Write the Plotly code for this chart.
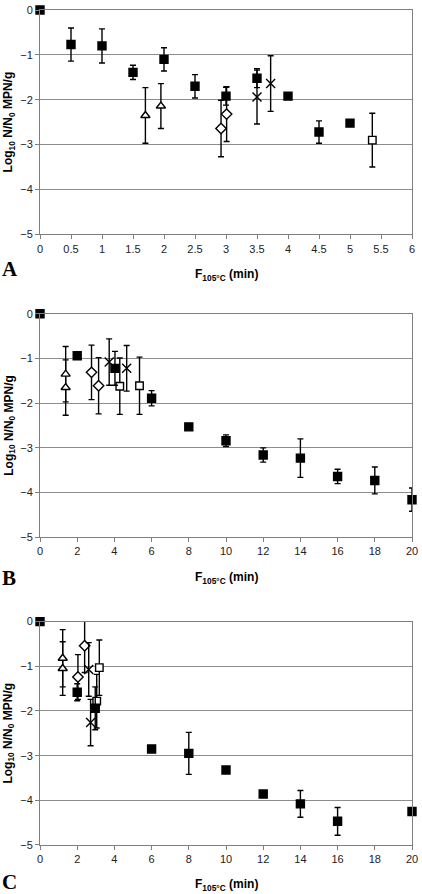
import plotly.graph_objects as go

# ---------------- data ----------------
# Panel A
a_sq_x = [0, 0.5, 1, 1.5, 2, 2.5, 3, 3.5, 4, 4.5, 5]
a_sq_y = [0, -0.77, -0.80, -1.39, -1.10, -1.70, -1.92, -1.52, -1.92, -2.72, -2.52]
a_sq_e = [None, 0.37, 0.38, 0.16, 0.26, 0.26, 0.20, 0.21, None, 0.25, None]
a_tri_x = [1.70, 1.95]
a_tri_y = [-2.35, -2.14]
a_tri_e = [0.62, 0.50]
a_dia_x = [2.92, 3.01]
a_dia_y = [-2.64, -2.32]
a_dia_e = [0.63, 0.61]
a_x_x = [3.50, 3.72]
a_x_y = [-1.94, -1.64]
a_x_e = [0.60, 0.62]
a_osq_x = [5.36]
a_osq_y = [-2.90]
a_osq_e = [0.60]

# Panel B
b_sq_x = [0, 2, 4.03, 6, 8, 10, 12, 14, 16, 18, 20]
b_sq_y = [0, -0.94, -1.22, -1.89, -2.53, -2.84, -3.16, -3.23, -3.64, -3.73, -4.16]
b_sq_e = [None, None, 0.38, 0.17, None, 0.13, 0.16, 0.43, 0.16, 0.30, 0.26]
b_tri_x = [1.38, 1.38]
b_tri_y = [-1.35, -1.65]
b_tri_e = [0.62, 0.62]
b_dia_x = [2.77, 3.15]
b_dia_y = [-1.31, -1.61]
b_dia_e = [0.61, 0.63]
b_x_x = [3.72, 4.66]
b_x_y = [-1.08, -1.22]
b_x_e = [0.52, 0.51]
b_osq_x = [4.29, 5.35]
b_osq_y = [-1.62, -1.61]
b_osq_e = [0.63, 0.64]

# Panel C
c_sq_x = [0, 2, 2.97, 6, 8, 10, 12, 14, 16, 20]
c_sq_y = [0, -1.58, -1.94, -2.85, -2.95, -3.32, -3.86, -4.08, -4.47, -4.25]
c_sq_e = [None, 0.19, 0.48, None, 0.47, None, None, 0.30, 0.31, None]
c_tri_x = [1.22, 1.22]
c_tri_y = [-0.82, -1.05]
c_tri_e = [0.64, 0.60]
c_dia_x = [2.04, 2.40]
c_dia_y = [-1.24, -0.54]
c_dia_e = [0.50, 0.60]
c_x_x = [2.62, 2.72]
c_x_y = [-1.07, -2.26]
c_x_e = [0.60, 0.52]
c_osq_x = [3.05, 3.19]
c_osq_y = [-1.78, -1.03]
c_osq_e = [0.60, 0.62]

panel_letters = ["A", "B", "C"]
x_title = "<b>F<sub>105°C</sub> (min)</b>"
y_title = "<b>Log<sub>10</sub> N/N<sub>0</sub> MPN/g</b>"

# ---------------- figure ----------------
fig = go.Figure()

def add_series(xs, ys, es, symbol, size, axn, fill):
    xa = "x" if axn == 1 else f"x{axn}"
    ya = "y" if axn == 1 else f"y{axn}"
    fig.add_trace(go.Scatter(
        x=xs, y=ys, mode="markers", xaxis=xa, yaxis=ya,
        cliponaxis=False, showlegend=False, hoverinfo="skip",
        marker=dict(symbol=symbol, size=size, color=fill,
                    line=dict(color="black", width=1.4)),
        error_y=dict(type="data", array=es, visible=True,
                     color="black", thickness=1.4, width=3),
    ))

panels = [
    (1, a_sq_x, a_sq_y, a_sq_e, a_tri_x, a_tri_y, a_tri_e, a_dia_x, a_dia_y, a_dia_e,
     a_x_x, a_x_y, a_x_e, a_osq_x, a_osq_y, a_osq_e),
    (2, b_sq_x, b_sq_y, b_sq_e, b_tri_x, b_tri_y, b_tri_e, b_dia_x, b_dia_y, b_dia_e,
     b_x_x, b_x_y, b_x_e, b_osq_x, b_osq_y, b_osq_e),
    (3, c_sq_x, c_sq_y, c_sq_e, c_tri_x, c_tri_y, c_tri_e, c_dia_x, c_dia_y, c_dia_e,
     c_x_x, c_x_y, c_x_e, c_osq_x, c_osq_y, c_osq_e),
]

for (n, sx, sy, se, tx, ty, te, dx, dy, de, xx, xy, xe, ox, oy, oe) in panels:
    add_series(tx, ty, te, "triangle-up", 8, n, "white")
    add_series(dx, dy, de, "diamond", 8, n, "white")
    add_series(xx, xy, xe, "x-thin-open", 9, n, "black")
    add_series(ox, oy, oe, "square", 7.5, n, "white")
    add_series(sx, sy, se, "square", 8, n, "black")

W, H = 422, 894
ml, mr, mt, mb = 40, 7, 4, 49
ph = H - mt - mb

def py(p):
    return (H - mb - p) / ph

def px(q):
    return (q - ml) / (W - ml - mr)

domains = [(py(230), py(4)), (py(535), py(310)), (py(845), py(620))]
xranges = [(0, 6, 0.5), (0, 20, 2), (0, 20, 2)]

axis_common = dict(
    showline=True, linecolor="#7f7f7f", linewidth=1, mirror=True,
    ticks="outside", ticklen=4, tickcolor="#7f7f7f", tickwidth=1,
    zeroline=False, ticklabeloverflow="allow",
    tickfont=dict(family="Liberation Sans, Arial, sans-serif", size=11, color="#222"),
)

layout = dict(
    width=W, height=H,
    margin=dict(l=ml, r=mr, t=mt, b=mb),
    plot_bgcolor="white", paper_bgcolor="white",
    font=dict(family="Liberation Sans, Arial, sans-serif", color="#111"),
)
for i in range(3):
    sfx = "" if i == 0 else str(i + 1)
    r0, r1, dt = xranges[i]
    layout[f"xaxis{sfx}"] = dict(
        axis_common, domain=[0, 1], range=[r0, r1], dtick=dt, tick0=0,
        anchor=f"y{sfx}", showgrid=False,
    )
    layout[f"yaxis{sfx}"] = dict(
        axis_common, domain=list(domains[i]), range=[-5, 0], dtick=1, tick0=0,
        anchor=f"x{sfx}", showgrid=True, gridcolor="#8c8c8c", gridwidth=1,
    )
fig.update_layout(**layout)

letter_y = [264.5, 576.5, 882]
xtitle_y = [271, 576, 885]
ytitle_y = [117, 422.5, 732.5]
for i in range(3):
    fig.add_annotation(text=f"<b>{panel_letters[i]}</b>", xref="paper", yref="paper",
                       x=px(0), y=py(letter_y[i]), xanchor="left", yanchor="middle",
                       showarrow=False,
                       font=dict(family="Liberation Serif, Times New Roman, serif", size=21, color="black"))
    fig.add_annotation(text=x_title, xref="paper", yref="paper",
                       x=px(228), y=py(xtitle_y[i]), xanchor="center", yanchor="middle",
                       showarrow=False,
                       font=dict(family="Liberation Sans, Arial, sans-serif", size=12, color="black"))
    fig.add_annotation(text=y_title, xref="paper", yref="paper", textangle=-90,
                       x=px(9), y=py(ytitle_y[i]), xanchor="center", yanchor="middle",
                       showarrow=False,
                       font=dict(family="Liberation Sans, Arial, sans-serif", size=12, color="black"))

fig.write_html("out.html", config={"displayModeBar": False, "staticPlot": True},
               post_script="document.body.style.margin='0';document.body.style.overflow='hidden';")
